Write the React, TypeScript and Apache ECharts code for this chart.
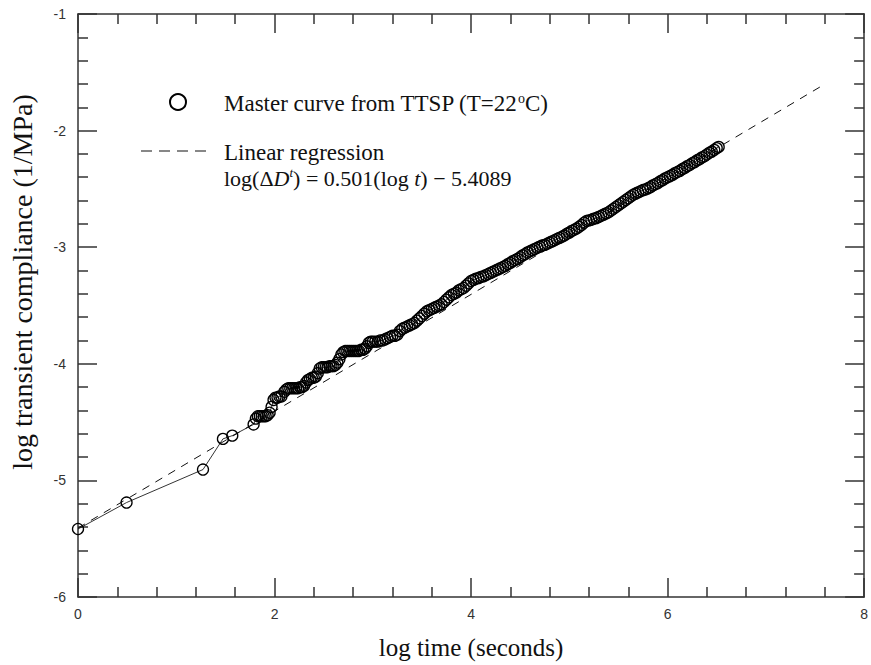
import React, { useEffect, useRef } from 'react';
import * as echarts from 'echarts';

// Master curve from TTSP (T=22ºC): log time (s) vs log transient compliance (1/MPa)
const logTime = [
  0, 0.494, 1.272, 1.475, 1.57, 1.787,
  1.81, 1.83, 1.85, 1.87, 1.89, 1.91, 1.93, 1.95, 1.97, 1.99, 2.01, 2.03, 2.05, 2.07,
  2.1, 2.12, 2.14, 2.16, 2.18, 2.2, 2.22, 2.24, 2.26, 2.28, 2.3, 2.32, 2.34, 2.36, 2.38,
  2.4, 2.42, 2.44, 2.46, 2.48, 2.5, 2.52, 2.54, 2.56, 2.58, 2.6, 2.62, 2.64, 2.66, 2.68,
  2.7, 2.72, 2.74, 2.76, 2.78, 2.8, 2.82, 2.84, 2.86, 2.88, 2.9, 2.92, 2.94, 2.96, 2.98,
  3.0, 3.025, 3.05, 3.075, 3.1, 3.125, 3.15, 3.175, 3.2, 3.225, 3.25, 3.275, 3.3, 3.325,
  3.35, 3.375, 3.4, 3.425, 3.45, 3.475, 3.5, 3.525, 3.55, 3.575, 3.6, 3.625, 3.65, 3.675,
  3.7, 3.725, 3.75, 3.775, 3.8, 3.825, 3.85, 3.875, 3.9, 3.925, 3.95, 3.975, 4.0, 4.025,
  4.05, 4.075, 4.1, 4.125, 4.15, 4.175, 4.2, 4.225, 4.25, 4.275, 4.3, 4.325, 4.35, 4.375,
  4.4, 4.425, 4.45, 4.475, 4.5, 4.525, 4.55, 4.575, 4.6, 4.625, 4.65, 4.675, 4.7, 4.725,
  4.75, 4.775, 4.8, 4.825, 4.85, 4.875, 4.9, 4.925, 4.95, 4.975, 5.0, 5.025, 5.05, 5.075,
  5.1, 5.125, 5.15, 5.175, 5.2, 5.225, 5.25, 5.275, 5.3, 5.325, 5.35, 5.375, 5.4, 5.425,
  5.45, 5.475, 5.5, 5.525, 5.55, 5.575, 5.6, 5.625, 5.65, 5.675, 5.7, 5.725, 5.75, 5.775,
  5.8, 5.825, 5.85, 5.875, 5.9, 5.925, 5.95, 5.975, 6.0, 6.025, 6.05, 6.075, 6.1, 6.125,
  6.15, 6.175, 6.2, 6.225, 6.25, 6.275, 6.3, 6.325, 6.35, 6.375, 6.4, 6.425, 6.45, 6.475,
  6.5, 6.52,
];
const logCompliance = [
  -5.417, -5.19, -4.907, -4.644, -4.616, -4.52,
  -4.47, -4.45, -4.45, -4.45, -4.45, -4.45, -4.44, -4.42, -4.37, -4.31, -4.29, -4.29, -4.28, -4.28,
  -4.24, -4.22, -4.21, -4.21, -4.21, -4.21, -4.21, -4.21, -4.2, -4.2, -4.19, -4.16, -4.14, -4.13, -4.12,
  -4.12, -4.11, -4.08, -4.04, -4.03, -4.03, -4.03, -4.03, -4.02, -4.02, -4.02, -4.01, -3.99, -3.96, -3.92,
  -3.9, -3.89, -3.89, -3.89, -3.89, -3.89, -3.89, -3.89, -3.89, -3.88, -3.88, -3.87, -3.85, -3.82, -3.81,
  -3.81, -3.81, -3.81, -3.8, -3.8, -3.79, -3.78, -3.77, -3.76, -3.76, -3.75, -3.72, -3.7, -3.69,
  -3.68, -3.67, -3.66, -3.65, -3.63, -3.61, -3.59, -3.57, -3.55, -3.54, -3.53, -3.52, -3.51, -3.5,
  -3.49, -3.47, -3.45, -3.43, -3.41, -3.4, -3.39, -3.37, -3.36, -3.35, -3.33, -3.31, -3.29, -3.28,
  -3.27, -3.265, -3.255, -3.25, -3.24, -3.23, -3.22, -3.21, -3.2, -3.19, -3.18, -3.17, -3.16, -3.145,
  -3.135, -3.12, -3.11, -3.1, -3.085, -3.07, -3.06, -3.045, -3.035, -3.025, -3.015, -3.005, -2.995, -2.985,
  -2.98, -2.97, -2.96, -2.95, -2.94, -2.93, -2.92, -2.91, -2.9, -2.885, -2.875, -2.86, -2.85, -2.84,
  -2.825, -2.81, -2.79, -2.775, -2.77, -2.765, -2.755, -2.75, -2.74, -2.73, -2.72, -2.71, -2.7, -2.685,
  -2.67, -2.655, -2.64, -2.625, -2.61, -2.595, -2.58, -2.565, -2.55, -2.54, -2.53, -2.52, -2.51, -2.505,
  -2.495, -2.485, -2.47, -2.46, -2.45, -2.435, -2.425, -2.41, -2.4, -2.39, -2.38, -2.365, -2.355, -2.345,
  -2.33, -2.32, -2.305, -2.295, -2.28, -2.27, -2.255, -2.245, -2.23, -2.22, -2.205, -2.19, -2.18, -2.165,
  -2.15, -2.14,
];

// Linear regression endpoints: log(ΔD^t) = 0.501(log t) − 5.4089
const regressionX = [0, 7.61];
const regressionY = [-5.4089, -1.5963];

const xTicks = { min: 0, max: 8, interval: 2 };
const yTicks = { min: -6, max: -1, interval: 1 };

const serif = '"Liberation Serif", "Times New Roman", serif';
const sans = '"Liberation Sans", Arial, sans-serif';

export default function App() {
  const ref = useRef<HTMLDivElement>(null);

  useEffect(() => {
    if (!ref.current) return;
    const chart = echarts.init(ref.current, undefined, { renderer: 'svg' });

    const axisCommon = {
      type: 'value' as const,
      axisLine: { show: true, onZero: false, lineStyle: { color: '#333', width: 1.5 } },
      axisTick: { show: true, inside: true, length: 19, lineStyle: { color: '#333', width: 1.5 } },
      minorTick: { show: true, splitNumber: 5, length: 10, lineStyle: { color: '#333', width: 1.5 } },
      splitLine: { show: false },
      minorSplitLine: { show: false },
    };

    const labelStyle = { color: '#333', fontFamily: sans, fontSize: 14 };

    chart.setOption({
      animation: false,
      backgroundColor: '#fff',
      grid: { left: 78, right: 5, top: 14, bottom: 62 },
      xAxis: [
        {
          ...axisCommon,
          ...xTicks,
          position: 'bottom',
          name: 'log time (seconds)',
          nameLocation: 'middle',
          nameGap: 38,
          nameTextStyle: { color: '#111', fontFamily: serif, fontSize: 25 },
          axisLabel: { ...labelStyle, margin: 10 },
        },
        {
          ...axisCommon,
          ...xTicks,
          position: 'top',
          axisLabel: { show: false },
        },
      ],
      yAxis: [
        {
          ...axisCommon,
          ...yTicks,
          position: 'left',
          axisLabel: { ...labelStyle, margin: 12 },
        },
        {
          ...axisCommon,
          ...yTicks,
          position: 'right',
          axisLabel: { show: false },
        },
      ],
      series: [
        {
          type: 'line',
          name: 'Linear regression',
          data: regressionX.map((x, i) => [x, regressionY[i]]),
          showSymbol: false,
          symbol: 'none',
          lineStyle: { color: '#111', width: 1, type: [8, 7] },
          z: 1,
        },
        {
          type: 'line',
          name: 'Master curve from TTSP',
          data: logTime.map((x, i) => [x, logCompliance[i]]),
          symbol: 'circle',
          symbolSize: 11,
          showAllSymbol: true,
          itemStyle: { color: 'rgba(0,0,0,0)', borderColor: '#000', borderWidth: 1.3 },
          lineStyle: { color: '#000', width: 0.8 },
          z: 2,
        },
      ],
      graphic: [
        {
          type: 'text',
          x: 22,
          y: 282,
          rotation: Math.PI / 2,
          style: {
            text: 'log transient compliance (1/MPa)',
            fontFamily: serif,
            fontSize: 28,
            fill: '#111',
            align: 'center',
            verticalAlign: 'middle',
          },
        },
        {
          type: 'circle',
          shape: { cx: 178, cy: 102, r: 8 },
          style: { fill: 'none', stroke: '#000', lineWidth: 2 },
        },
        {
          type: 'text',
          x: 224,
          y: 103,
          style: {
            text: '{a|Master curve from TTSP (T=22}{s|o}{a|C)}',
            verticalAlign: 'middle',
            rich: {
              a: { fontFamily: serif, fontSize: 23, fill: '#111', lineHeight: 24 },
              s: { fontFamily: serif, fontSize: 14, fill: '#111', verticalAlign: 'top', lineHeight: 24, padding: [0, 0, 10, 0] },
            },
          },
        },
        {
          type: 'line',
          shape: { x1: 141, y1: 151, x2: 208, y2: 151 },
          style: { stroke: '#111', lineWidth: 1.2, lineDash: [11, 7] },
        },
        {
          type: 'text',
          x: 224,
          y: 152,
          style: {
            text: 'Linear regression',
            fontFamily: serif,
            fontSize: 23,
            fill: '#111',
            verticalAlign: 'middle',
          },
        },
        {
          type: 'text',
          x: 224,
          y: 178,
          style: {
            text: '{a|log(Δ}{i|D}{s|t}{a|) = 0.501(log }{i|t}{a|) − 5.4089}',
            verticalAlign: 'middle',
            rich: {
              a: { fontFamily: serif, fontSize: 22, fill: '#111', lineHeight: 24 },
              i: { fontFamily: serif, fontSize: 22, fontStyle: 'italic', fill: '#111', lineHeight: 24 },
              s: { fontFamily: serif, fontSize: 13, fontStyle: 'italic', fill: '#111', verticalAlign: 'top', lineHeight: 24, padding: [0, 0, 10, 0] },
            },
          },
        },
      ],
    });

    return () => chart.dispose();
  }, []);

  return (
    <div
      ref={ref}
      style={{ position: 'fixed', left: 0, top: 0, width: 871, height: 665, background: '#fff' }}
    />
  );
}
